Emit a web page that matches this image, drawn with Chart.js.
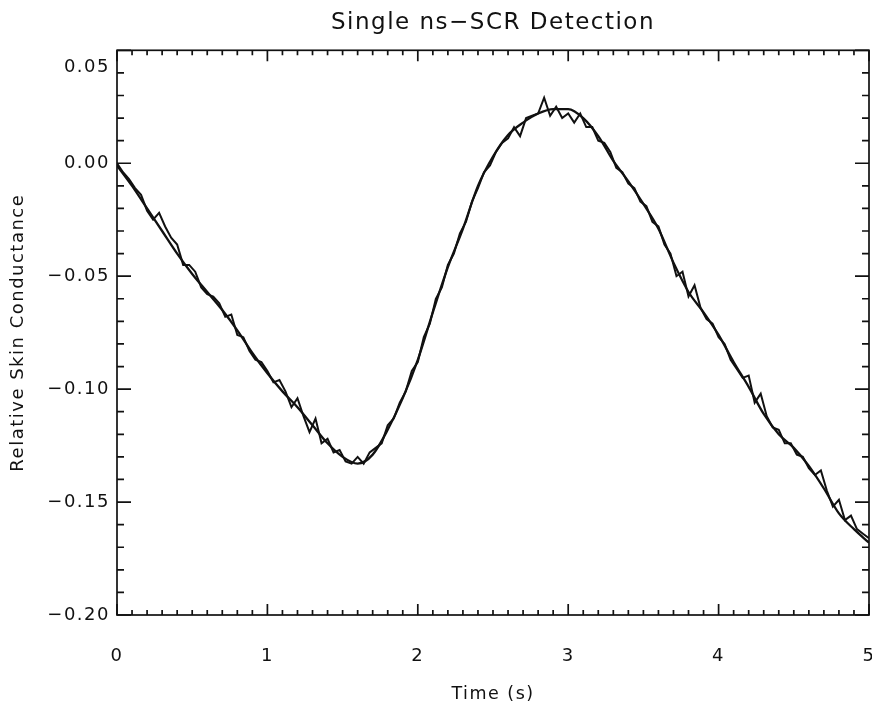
<!DOCTYPE html>
<html>
<head>
<meta charset="utf-8">
<title>Single ns-SCR Detection</title>
<script src="https://cdn.jsdelivr.net/npm/chart.js@4.4.1/dist/chart.umd.min.js"></script>
<style>
  html, body { margin: 0; padding: 0; background: #fff; }
  #wrap { width: 872px; height: 713px; }
</style>
</head>
<body>
<div id="wrap"><canvas id="scr" width="872" height="713"></canvas></div>
<script>
// sampling of the two traces (s)
var fitStart = 0, fitStep = 0.1;
var rawStart = 0, rawStep = 0.04;

// fitted ns-SCR model, one value every 0.1 s
var fitValues = [
  -0.001, -0.010, -0.020, -0.030, -0.040, -0.049, -0.057, -0.065, -0.074, -0.084,
  -0.093, -0.101, -0.108, -0.116, -0.124, -0.130, -0.133, -0.129, -0.118, -0.104,
  -0.087, -0.066, -0.046, -0.029, -0.010, 0.003, 0.0125, 0.018, 0.022, 0.024,
  0.024, 0.020, 0.012, 0.001, -0.008, -0.018, -0.029, -0.044, -0.057, -0.066,
  -0.076, -0.088, -0.099, -0.111, -0.120, -0.126, -0.134, -0.144, -0.155, -0.162,
  -0.168
];

// measured relative skin conductance, one value every 0.04 s
var rawValues = [
  0.000, -0.004, -0.007, -0.011, -0.014, -0.021, -0.025, -0.022, -0.028, -0.033,
  -0.036, -0.045, -0.045, -0.048, -0.055, -0.058, -0.059, -0.062, -0.068, -0.067,
  -0.076, -0.077, -0.083, -0.087, -0.088, -0.092, -0.097, -0.096, -0.101, -0.108,
  -0.104, -0.112, -0.119, -0.113, -0.124, -0.122, -0.128, -0.127, -0.132, -0.133,
  -0.130, -0.133, -0.128, -0.126, -0.124, -0.116, -0.113, -0.106, -0.101, -0.092,
  -0.088, -0.077, -0.071, -0.060, -0.055, -0.045, -0.040, -0.031, -0.026, -0.017,
  -0.011, -0.004, -0.001, 0.005, 0.009, 0.011, 0.016, 0.012, 0.020, 0.021,
  0.022, 0.029, 0.021, 0.025, 0.020, 0.022, 0.018, 0.022, 0.016, 0.016,
  0.010, 0.009, 0.005, -0.002, -0.004, -0.009, -0.011, -0.017, -0.019, -0.026,
  -0.028, -0.036, -0.040, -0.050, -0.048, -0.059, -0.054, -0.064, -0.069, -0.071,
  -0.077, -0.080, -0.087, -0.091, -0.095, -0.094, -0.106, -0.102, -0.112, -0.117,
  -0.118, -0.124, -0.124, -0.129, -0.130, -0.135, -0.138, -0.136, -0.145, -0.152,
  -0.149, -0.158, -0.156, -0.162, -0.164, -0.166
];

// axes
var xMajor = [0, 1, 2, 3, 4, 5];
var xTickLabels = ['0', '1', '2', '3', '4', '5'];
var yMajor = [0.05, 0.00, -0.05, -0.10, -0.15, -0.20];
var yTickLabels = ['0.05', '0.00', '\u22120.05', '\u22120.10', '\u22120.15', '\u22120.20'];

var ink = '#111';
var tickFont = { family: 'DejaVu Sans', size: 18 };
// the top label sits a bit below the frame corner in the original
var topTickFont = { family: 'DejaVu Sans', size: 18, lineHeight: 1.9 };

function majorIndex(list, v) {
  for (var i = 0; i < list.length; i++) {
    if (Math.abs(list[i] - v) < 1e-6) return i;
  }
  return -1;
}

function toPoints(start, step, values) {
  return values.map(function(v, i) { return { x: start + i * step, y: v }; });
}

// IDL style box: frame plus inward ticks on all four sides
var frameTicks = {
  id: 'frameTicks',
  beforeLayout: function(chart) { chart.ctx.letterSpacing = '1.5px'; },
  beforeDraw: function(chart) { chart.ctx.letterSpacing = '1.5px'; },
  afterDatasetsDraw: function(chart) {
    var ctx = chart.ctx, a = chart.chartArea;
    var xs = chart.scales.x, ys = chart.scales.y;
    ctx.save();
    ctx.strokeStyle = ink;
    ctx.lineWidth = 1.7;
    ctx.strokeRect(a.left, a.top, a.right - a.left, a.bottom - a.top);
    ctx.beginPath();
    xs.ticks.forEach(function(t) {
      var px = xs.getPixelForValue(t.value);
      var len = majorIndex(xMajor, t.value) >= 0 ? 11 : 5;
      ctx.moveTo(px, a.bottom); ctx.lineTo(px, a.bottom - len);
      ctx.moveTo(px, a.top); ctx.lineTo(px, a.top + len);
    });
    ys.ticks.forEach(function(t) {
      var py = ys.getPixelForValue(t.value);
      var len = majorIndex(yMajor, t.value) >= 0 ? 14 : 7;
      ctx.moveTo(a.left, py); ctx.lineTo(a.left + len, py);
      ctx.moveTo(a.right, py); ctx.lineTo(a.right - len, py);
    });
    ctx.stroke();
    ctx.restore();
  }
};

new Chart(document.getElementById('scr'), {
  type: 'line',
  data: {
    datasets: [{
      label: 'fit',
      data: toPoints(fitStart, fitStep, fitValues),
      borderColor: ink,
      borderWidth: 2.3,
      pointRadius: 0,
      cubicInterpolationMode: 'monotone',
      fill: false
    }, {
      label: 'measured',
      data: toPoints(rawStart, rawStep, rawValues),
      borderColor: ink,
      borderWidth: 2,
      pointRadius: 0,
      tension: 0,
      fill: false
    }]
  },
  options: {
    responsive: false,
    animation: false,
    layout: { padding: { left: 0, right: 3, top: 0, bottom: 0 } },
    plugins: {
      legend: { display: false },
      tooltip: { enabled: false },
      title: {
        display: true,
        fullSize: false,
        text: 'Single ns\u2212SCR Detection',
        color: ink,
        font: { family: 'DejaVu Sans', size: 23, weight: 'normal', lineHeight: 1.1 },
        padding: { top: 10, bottom: 15 }
      }
    },
    scales: {
      x: {
        type: 'linear',
        min: 0,
        max: 5,
        afterFit: function(s) { s.height = 98; s.paddingLeft = 0; s.paddingRight = 0; },
        grid: { display: false, drawTicks: false },
        border: { display: false },
        ticks: {
          stepSize: 0.1,
          autoSkip: false,
          maxRotation: 0,
          padding: 31,
          color: ink,
          font: tickFont,
          callback: function(v) {
            var k = majorIndex(xMajor, v);
            return k >= 0 ? xTickLabels[k] : '';
          }
        },
        title: {
          display: true,
          text: 'Time (s)',
          color: ink,
          font: { family: 'DejaVu Sans', size: 17.5 },
          padding: { top: 0, bottom: 8 }
        }
      },
      y: {
        type: 'linear',
        min: -0.20,
        max: 0.05,
        afterFit: function(s) { s.width = 117; },
        grid: { display: false, drawTicks: false },
        border: { display: false },
        ticks: {
          stepSize: 0.01,
          autoSkip: false,
          padding: 7,
          color: ink,
          font: function(c) {
            return c.tick && majorIndex(yMajor, c.tick.value) === 0 ? topTickFont : tickFont;
          },
          callback: function(v) {
            var k = majorIndex(yMajor, v);
            if (k === 0) return ['', yTickLabels[k]];
            return k >= 0 ? yTickLabels[k] : '';
          }
        },
        title: {
          display: true,
          text: 'Relative Skin Conductance',
          color: ink,
          font: { family: 'DejaVu Sans', size: 18 },
          padding: { top: 8, bottom: 0 }
        }
      }
    }
  },
  plugins: [frameTicks]
});
</script>
</body>
</html>
